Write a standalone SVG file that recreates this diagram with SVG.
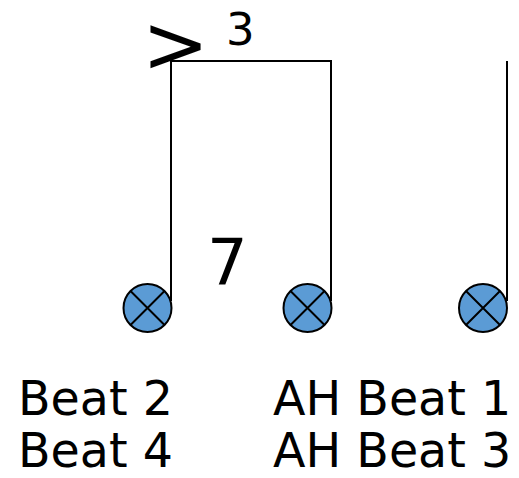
<svg xmlns="http://www.w3.org/2000/svg" width="519" height="478" viewBox="0 0 519 478">
<style>
.t{font-family:"DejaVu Sans","Verdana",sans-serif;fill:#000}
.head{fill:#5B9BD5;stroke:#000;stroke-width:2}
.x{stroke:#000;stroke-width:2}
.stem{stroke:#000;stroke-width:2;fill:none}
</style>
<rect width="519" height="478" fill="#fff"/>
<g id="connectors">
<path class="stem" d="M171,301 V61 H331 V301"/>
<path class="stem" d="M507,301 V61"/>
</g>
<g id="note1">
<circle class="head" cx="147.5" cy="308" r="24"/>
<path class="x" d="M130.5,291 L164.5,325 M164.5,291 L130.5,325"/>
</g>
<g id="note2">
<circle class="head" cx="307.5" cy="308" r="24"/>
<path class="x" d="M290.5,291 L324.5,325 M324.5,291 L290.5,325"/>
</g>
<g id="note3">
<circle class="head" cx="483" cy="308" r="24"/>
<path class="x" d="M466,291 L500,325 M500,291 L466,325"/>
</g>
<g id="accent"><text class="t" x="142" y="72" font-size="80">&gt;</text></g>
<g id="triplet"><text class="t" x="226" y="45" font-size="45">3</text></g>
<g id="seven"><text class="t" x="207" y="285" font-size="64">7</text></g>
<g id="labels">
<text class="t" x="18" y="415" font-size="47.5">Beat 2</text>
<text class="t" x="18" y="467" font-size="47.5">Beat 4</text>
<text class="t" x="273" y="415" font-size="47.5">AH Beat 1</text>
<text class="t" x="273" y="467" font-size="47.5">AH Beat 3</text>
</g>
</svg>
